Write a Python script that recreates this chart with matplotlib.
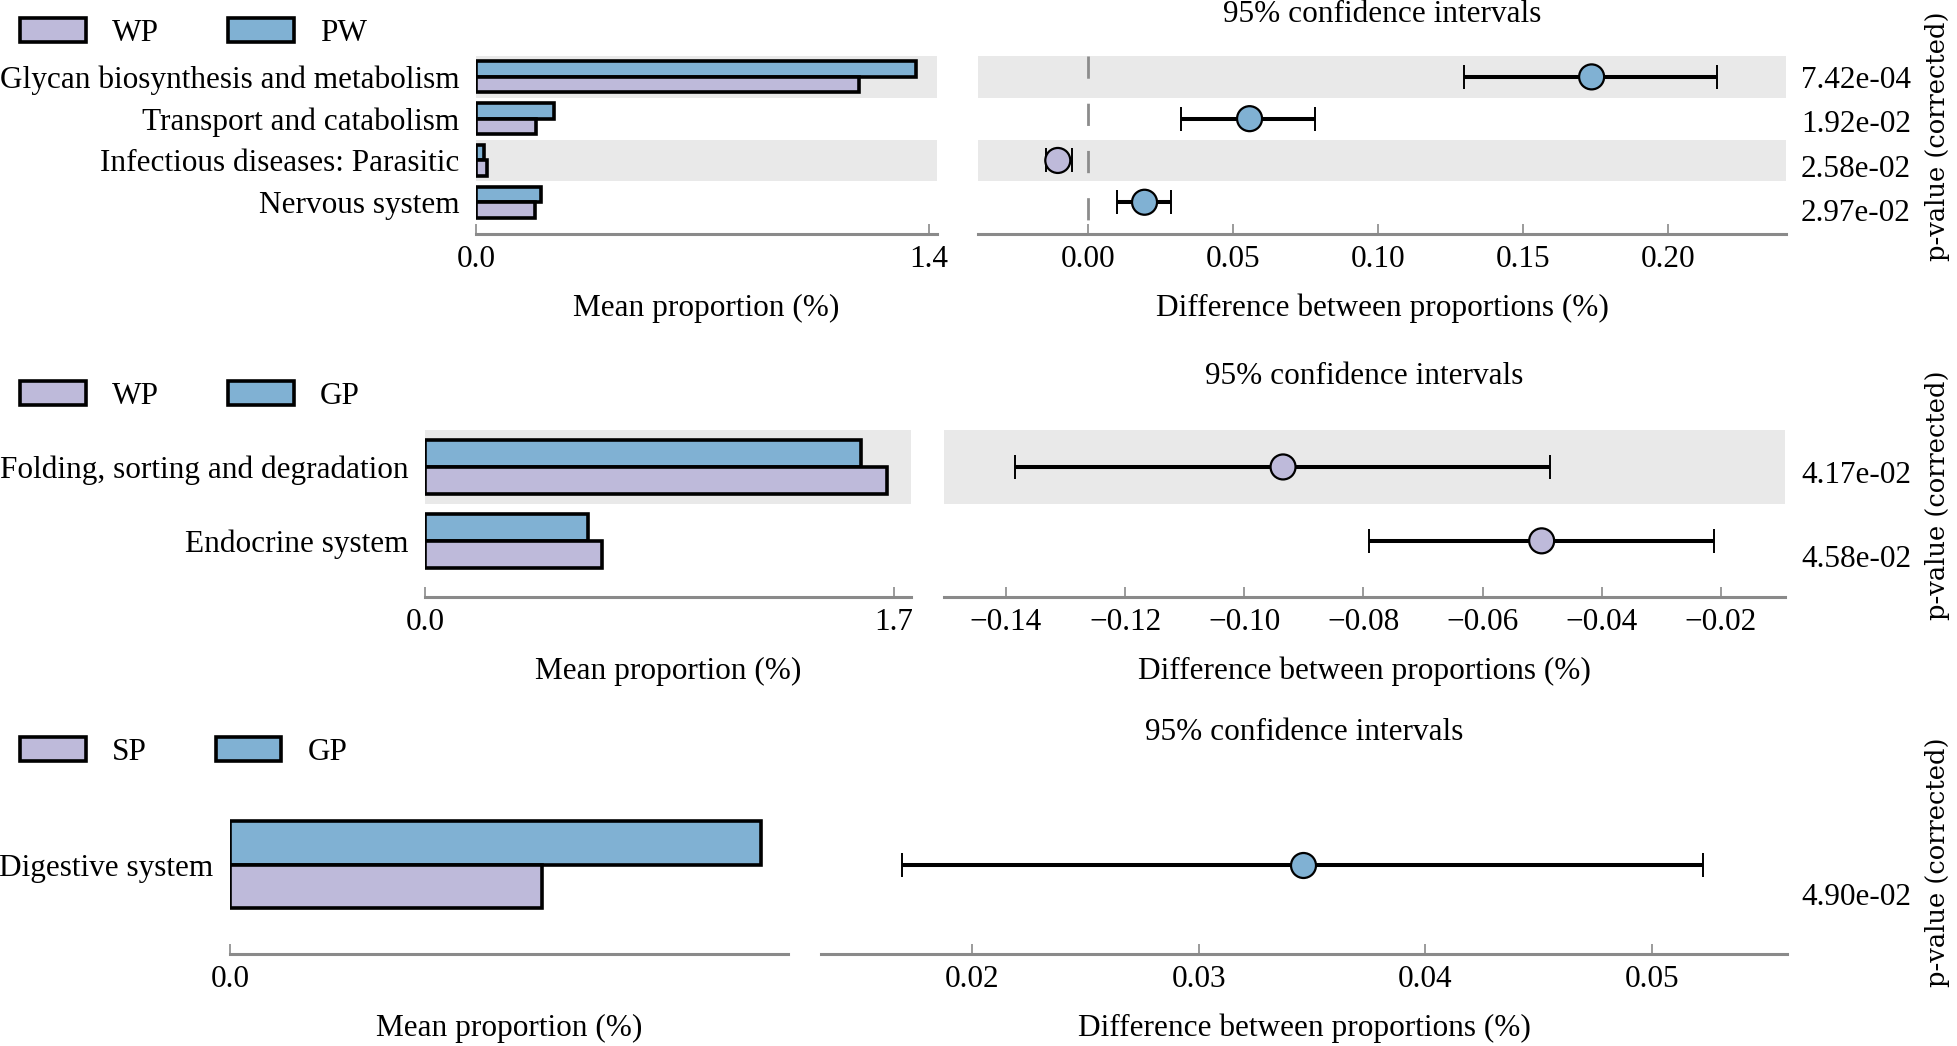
import numpy as np
import matplotlib
matplotlib.use('Agg')
import matplotlib.pyplot as plt
import matplotlib.transforms as mtransforms

plt.rcParams['font.family'] = ['Liberation Serif', 'DejaVu Serif']
plt.rcParams['font.size'] = 22.5

W, H = 1957, 1046
C_LAV = '#bebada'
C_BLUE = '#80b1d3'
C_BAND = '#e9e9e9'
C_AXIS = '#8a8a8a'

# ── data: panel 1 (WP vs PW) ──
p1_groups = ['WP', 'PW']
p1_features = ['Glycan biosynthesis and metabolism', 'Transport and catabolism',
               'Infectious diseases: Parasitic', 'Nervous system']
p1_mean_a = [1.184, 0.185, 0.035, 0.182]
p1_mean_b = [1.360, 0.241, 0.025, 0.200]
p1_diff = [0.1735, 0.0556, -0.0105, 0.0194]
p1_ci_low = [0.1296, 0.0321, -0.0147, 0.0099]
p1_ci_high = [0.2168, 0.0781, -0.0055, 0.0286]
p1_pvals = ['7.42e-04', '1.92e-02', '2.58e-02', '2.97e-02']
p1_bar_ticks = [0.0, 1.4]
p1_diff_ticks = [0.00, 0.05, 0.10, 0.15, 0.20]

# ── data: panel 2 (WP vs GP) ──
p2_groups = ['WP', 'GP']
p2_features = ['Folding, sorting and degradation', 'Endocrine system']
p2_mean_a = [1.676, 0.643]
p2_mean_b = [1.580, 0.592]
p2_diff = [-0.0935, -0.0501]
p2_ci_low = [-0.1385, -0.0791]
p2_ci_high = [-0.0487, -0.0212]
p2_pvals = ['4.17e-02', '4.58e-02']
p2_bar_ticks = [0.0, 1.7]
p2_diff_ticks = [-0.14, -0.12, -0.10, -0.08, -0.06, -0.04, -0.02]

# ── data: panel 3 (SP vs GP) ──
p3_groups = ['SP', 'GP']
p3_features = ['Digestive system']
p3_mean_a = [0.0492]
p3_mean_b = [0.0838]
p3_diff = [0.0346]
p3_ci_low = [0.0169]
p3_ci_high = [0.05225]
p3_pvals = ['4.90e-02']
p3_bar_ticks = [0.0]
p3_diff_ticks = [0.02, 0.03, 0.04, 0.05]

# ── layout (pixel boxes: x0, x1, ytop, ybot) ──
layouts = [
    dict(bar_box=(476, 937, 56, 234), ci_box=(978, 1786, 56, 234),
         bar_xlim=(0, 1.4247), ci_xlim=(-0.038, 0.2405),
         leg_y=33, title_off=41, p_off=0.55, ylab_y=136),
    dict(bar_box=(425, 911, 430, 597), ci_box=(944, 1785, 430, 597),
         bar_xlim=(0, 1.7618), ci_xlim=(-0.1504, -0.00926),
         leg_y=396, title_off=53, p_off=0.55, ylab_y=495),
    dict(bar_box=(230, 787.5, 806, 954), ci_box=(821, 1787, 806, 954),
         bar_xlim=(0, 0.088), ci_xlim=(0.01334, 0.05596),
         leg_y=752, title_off=73, p_off=0.615, ylab_y=862),
]

fig = plt.figure(figsize=(W / 100, H / 100), dpi=100)


def add_ax(box):
    x0, x1, yt, yb = box
    return fig.add_axes([x0 / W, 1 - yb / H, (x1 - x0) / W, (yb - yt) / H])


def style_bottom(ax):
    for s in ['top', 'right', 'left']:
        ax.spines[s].set_visible(False)
    ax.spines['bottom'].set_color(C_AXIS)
    ax.spines['bottom'].set_linewidth(2.2)
    ax.tick_params(axis='x', direction='in', length=7, width=1.2,
                   color=C_AXIS, pad=8)


def draw_panel(lay, groups, features, mean_a, mean_b, diff, lo, hi, pvals,
               bar_ticks, diff_ticks):
    n = len(features)
    y = np.arange(n)
    h = 0.37
    gap = 0.26
    diff = np.array(diff)
    lo = np.array(lo)
    hi = np.array(hi)

    ax_bar = add_ax(lay['bar_box'])
    ax_ci = add_ax(lay['ci_box'])

    for ax in (ax_bar, ax_ci):
        ax.set_ylim(n - 0.5 + gap, -0.5)
        style_bottom(ax)
        if n > 1:
            for i in range(0, n, 2):
                ax.axhspan(i - 0.5, i + 0.5, color=C_BAND, lw=0, zorder=0)

    # mean proportion bars
    bb = ax_bar.barh(y - h / 2, mean_b, height=h, color=C_BLUE,
                     edgecolor='black', linewidth=2.6, zorder=2)
    ba = ax_bar.barh(y + h / 2, mean_a, height=h, color=C_LAV,
                     edgecolor='black', linewidth=2.6, zorder=2)
    ax_bar.set_xlim(*lay['bar_xlim'])
    ax_bar.set_xticks(bar_ticks)
    ax_bar.set_xticklabels(['%.1f' % t for t in bar_ticks])
    ax_bar.set_yticks(y)
    ax_bar.set_yticklabels(features)
    ax_bar.tick_params(axis='y', length=0, pad=12)
    ax_bar.set_xlabel('Mean proportion (%)', labelpad=14)
    ax_bar.legend([ba, bb], groups, loc='center left',
                  bbox_to_anchor=(20 / W, 1 - lay['leg_y'] / H),
                  bbox_transform=fig.transFigure, ncol=2, frameon=False,
                  handlelength=2.1, handleheight=0.8, handletextpad=0.85,
                  columnspacing=2.2, borderpad=0, borderaxespad=0)

    # confidence intervals
    ax_ci.set_xlim(*lay['ci_xlim'])
    if lay['ci_xlim'][0] < 0 < lay['ci_xlim'][1]:
        ax_ci.plot([0, 0], [-0.5, n - 0.5], color='#8c8c8c', lw=2,
                   ls=(0, (8, 9)), zorder=1)
    ax_ci.errorbar(diff, y, xerr=[diff - lo, hi - diff], fmt='none',
                   ecolor='black', elinewidth=2.9, capsize=8.3, capthick=1.4,
                   zorder=2)
    colors = [C_BLUE if d > 0 else C_LAV for d in diff]
    ax_ci.scatter(diff, y, s=18 ** 2, c=colors, edgecolors='black',
                  linewidths=1.6, zorder=3)
    ax_ci.set_yticks([])
    ax_ci.set_xticks(diff_ticks)
    ax_ci.set_xticklabels([('%.2f' % t).replace('-', '\u2212') for t in diff_ticks])
    ax_ci.set_xlabel('Difference between proportions (%)', labelpad=14)
    ax_ci.annotate('95% confidence intervals', xy=(0.5, 1), xycoords='axes fraction',
                   xytext=(0, lay['title_off'] * 0.72), textcoords='offset points',
                   ha='center', va='center')

    # p-values
    trans = mtransforms.blended_transform_factory(fig.transFigure, ax_ci.transAxes)
    for i, p in enumerate(pvals):
        frac = (i + lay['p_off']) / n
        ax_ci.text(1856 / W, 1 - frac, p, transform=trans, ha='center',
                   va='center', clip_on=False)
    fig.text(1938 / W, 1 - lay['ylab_y'] / H, 'p-value (corrected)', rotation=90,
             ha='center', va='center', family='DejaVu Serif', fontsize=18.5)


draw_panel(layouts[0], p1_groups, p1_features, p1_mean_a, p1_mean_b, p1_diff,
           p1_ci_low, p1_ci_high, p1_pvals, p1_bar_ticks, p1_diff_ticks)
draw_panel(layouts[1], p2_groups, p2_features, p2_mean_a, p2_mean_b, p2_diff,
           p2_ci_low, p2_ci_high, p2_pvals, p2_bar_ticks, p2_diff_ticks)
draw_panel(layouts[2], p3_groups, p3_features, p3_mean_a, p3_mean_b, p3_diff,
           p3_ci_low, p3_ci_high, p3_pvals, p3_bar_ticks, p3_diff_ticks)

fig.savefig('out.png', dpi=100)
